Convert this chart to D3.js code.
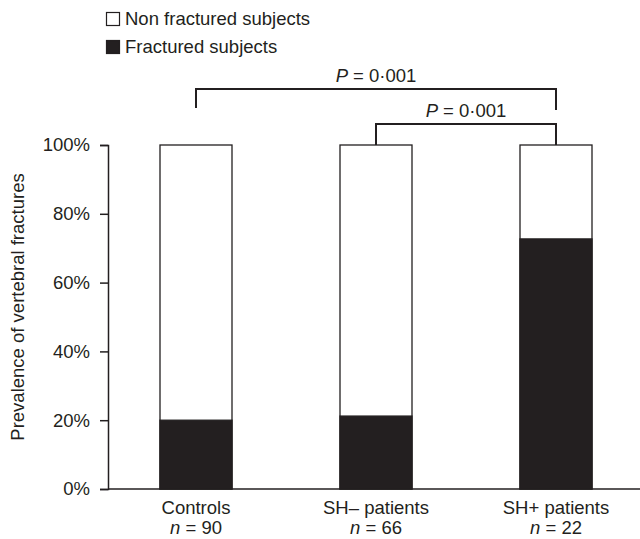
<!DOCTYPE html>
<html>
<head>
<meta charset="utf-8">
<script src="https://cdn.jsdelivr.net/npm/d3@7"></script>
<style>
  body { margin: 0; background: #fff; }
  text { font-family: "Liberation Sans", Arial, sans-serif; fill: #231f20; }
</style>
</head>
<body>
<div id="chart"></div>
<script>
const groups = ['Controls', 'SH\u2013 patients', 'SH+ patients'];
const counts = [90, 66, 22];
const fractured = [20.0, 21.2, 72.7];
const yTicks = [0, 20, 40, 60, 80, 100];
const comparisons = [
  { from: 0, to: 2, label: '0\u00b7001' },
  { from: 1, to: 2, label: '0\u00b7001' }
];

const WIDTH = 640;
const HEIGHT = 539;
const INK = '#231f20';
const FONT = 18.5;

const svg = d3.select('#chart')
  .append('svg')
  .attr('width', WIDTH)
  .attr('height', HEIGHT);

const x = d3.scaleBand()
  .domain(groups)
  .range([106, 646])
  .paddingInner(0.6)
  .paddingOuter(0.3);

const y = d3.scaleLinear()
  .domain([0, 100])
  .range([489, 145]);

// y axis
const yAxis = svg.append('g')
  .attr('transform', 'translate(108,0)')
  .call(d3.axisLeft(y).tickValues(yTicks).tickFormat(d => d + '%').tickSize(8).tickPadding(10));
yAxis.select('.domain').attr('stroke', INK).attr('stroke-width', 1.5);
yAxis.selectAll('.tick line').attr('stroke', INK).attr('stroke-width', 1.5);
yAxis.selectAll('.tick text')
  .attr('font-size', FONT)
  .attr('font-family', '"Liberation Sans", Arial, sans-serif')
  .attr('fill', INK);

// x axis baseline
svg.append('line')
  .attr('x1', 108).attr('x2', WIDTH)
  .attr('y1', y(0)).attr('y2', y(0))
  .attr('stroke', INK).attr('stroke-width', 1.5);

svg.append('text')
  .attr('transform', 'translate(24,307) rotate(-90)')
  .attr('text-anchor', 'middle')
  .attr('font-size', FONT)
  .text('Prevalence of vertebral fractures');

// bars: white full bar, black fractured portion
const bars = svg.append('g');
bars.selectAll('rect.full')
  .data(groups)
  .join('rect')
  .attr('class', 'full')
  .attr('x', d => x(d))
  .attr('width', x.bandwidth())
  .attr('y', y(100))
  .attr('height', y(0) - y(100))
  .attr('fill', '#fff')
  .attr('stroke', INK)
  .attr('stroke-width', 1.3);

bars.selectAll('rect.frac')
  .data(groups)
  .join('rect')
  .attr('class', 'frac')
  .attr('x', d => x(d))
  .attr('width', x.bandwidth())
  .attr('y', (d, i) => y(fractured[i]))
  .attr('height', (d, i) => y(0) - y(fractured[i]))
  .attr('fill', INK)
  .attr('stroke', INK)
  .attr('stroke-width', 1.3);

// category labels
const cx = d => x(d) + x.bandwidth() / 2;
const labels = svg.append('g').attr('text-anchor', 'middle');
labels.selectAll('text.name')
  .data(groups)
  .join('text')
  .attr('class', 'name')
  .attr('x', cx)
  .attr('y', 514)
  .attr('font-size', FONT)
  .text(d => d);

const nText = labels.selectAll('text.n')
  .data(groups)
  .join('text')
  .attr('class', 'n')
  .attr('x', cx)
  .attr('y', 534)
  .attr('font-size', FONT);
nText.append('tspan').attr('font-style', 'italic').text('n');
nText.append('tspan').text((d, i) => ' = ' + counts[i]);

// significance brackets
const bracketY = [89, 124];
const dropY = [108, 145];
comparisons.forEach((c, k) => {
  const x1 = cx(groups[c.from]);
  const x2 = cx(groups[c.to]);
  svg.append('path')
    .attr('d', `M${x1},${dropY[k]}V${bracketY[k]}H${x2}V${k === 0 ? 110 : 145}`)
    .attr('fill', 'none')
    .attr('stroke', INK)
    .attr('stroke-width', 2);
  const t = svg.append('text')
    .attr('x', (x1 + x2) / 2)
    .attr('y', bracketY[k] - 7)
    .attr('text-anchor', 'middle')
    .attr('font-size', FONT);
  t.append('tspan').attr('font-style', 'italic').text('P');
  t.append('tspan').text(' = ' + c.label);
});

// legend
const legendItems = [
  { label: 'Non fractured subjects', fill: '#fff' },
  { label: 'Fractured subjects', fill: INK }
];
const legend = svg.append('g');
legendItems.forEach((item, i) => {
  const ly = 12 + i * 28;
  legend.append('rect')
    .attr('x', 106.5).attr('y', ly + 0.5)
    .attr('width', 13).attr('height', 13)
    .attr('fill', item.fill)
    .attr('stroke', INK)
    .attr('stroke-width', 1.2);
  legend.append('text')
    .attr('x', 125)
    .attr('y', ly + 13)
    .attr('font-size', FONT)
    .text(item.label);
});
</script>
</body>
</html>
